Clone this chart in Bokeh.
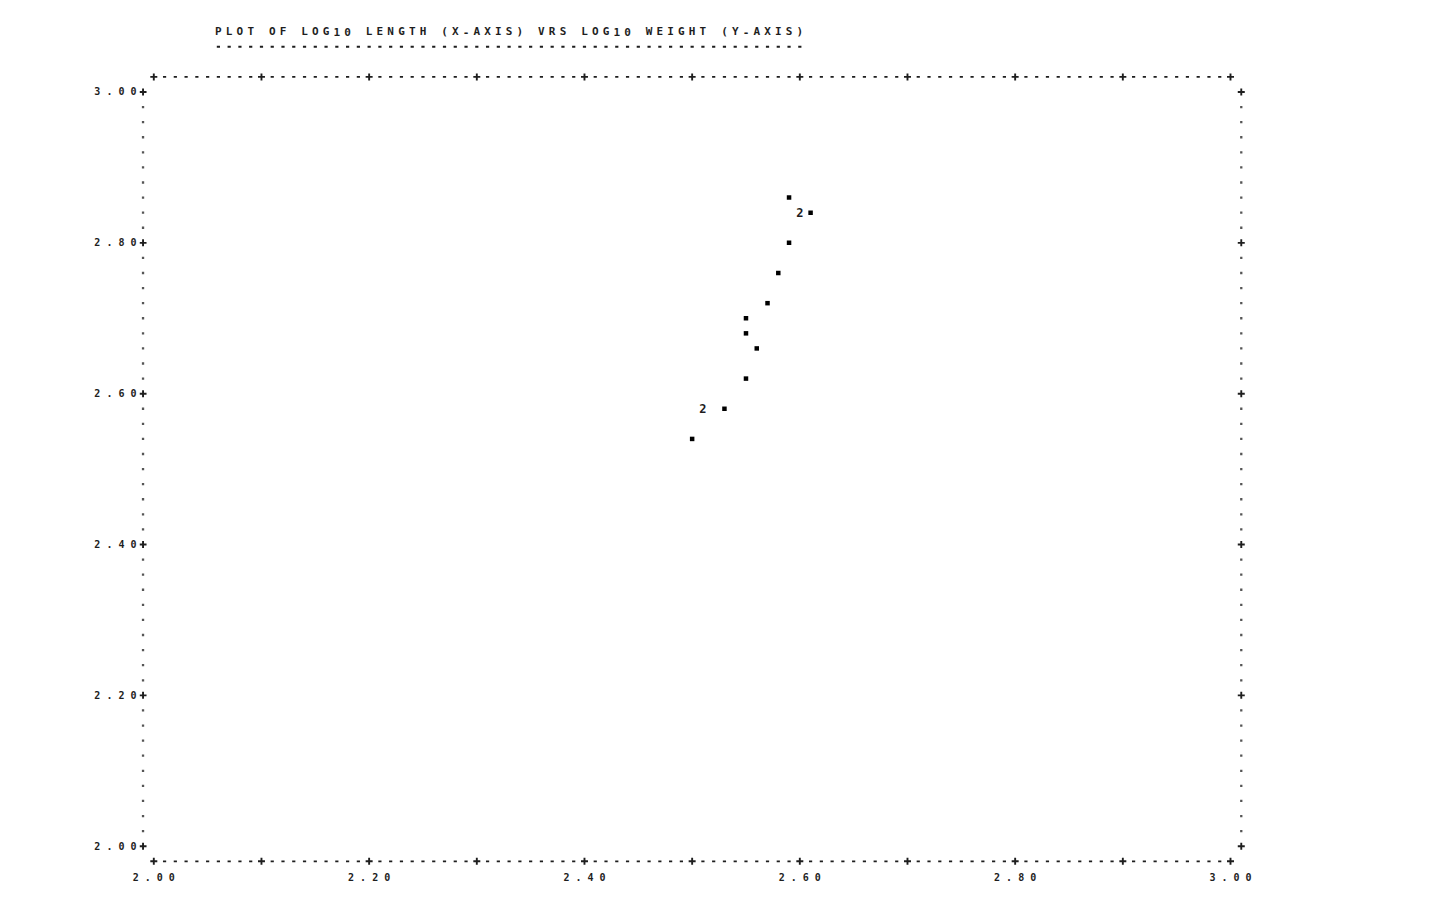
import numpy as np
from bokeh.plotting import figure
from bokeh.models import Range1d, FixedTicker, CustomJSTickFormatter
from bokeh.core.properties import value
from bokeh.embed import file_html
from bokeh.resources import INLINE

# ---------------- data ----------------
title_text = "PLOT OF LOG10 LENGTH (X-AXIS) VRS LOG10 WEIGHT (Y-AXIS)"
x_ticks = [2.00, 2.20, 2.40, 2.60, 2.80, 3.00]
y_ticks = [2.00, 2.20, 2.40, 2.60, 2.80, 3.00]

log10_length = [2.50, 2.51, 2.53, 2.55, 2.56, 2.55, 2.55, 2.57, 2.58, 2.59, 2.59, 2.60, 2.61]
log10_weight = [2.54, 2.58, 2.58, 2.62, 2.66, 2.68, 2.70, 2.72, 2.76, 2.80, 2.86, 2.84, 2.84]
obs_count    = [1,    2,    1,    1,    1,    1,    1,    1,    1,    1,    1,    2,    1]

# line-printer grid: one column = 0.01 on x, one line = 0.02 on y
COL, ROW = 0.01, 0.02
X_LO, X_HI = 2.00, 3.00
Y_LO, Y_HI = 2.00, 3.00

FONT = value("DejaVu Sans Mono")
INK = "#1e1e1e"

p = figure(width=1427, height=890,
           x_range=Range1d(1.986719, 3.018575),
           y_range=Range1d(1.973084, 3.097454),
           output_backend="svg", toolbar_location=None,
           min_border_left=139, min_border_right=177,
           min_border_top=18, min_border_bottom=24)
p.grid.visible = False
p.outline_line_color = None
p.background_fill_color = "white"
p.border_fill_color = "white"

fmt = CustomJSTickFormatter(code="return tick.toFixed(2).split('').join(' ');")
for ax, ticks, stand in ((p.xaxis[0], x_ticks, 5), (p.yaxis[0], y_ticks, 3)):
    ax.ticker = FixedTicker(ticks=ticks)
    ax.formatter = fmt
    ax.axis_line_color = None
    ax.major_tick_line_color = None
    ax.minor_tick_line_color = None
    ax.major_tick_in = 0
    ax.major_tick_out = 0
    ax.major_label_standoff = stand
    ax.major_label_text_font = "DejaVu Sans Mono"
    ax.major_label_text_font_style = "bold"
    ax.major_label_text_font_size = "10px"
    ax.major_label_text_color = INK

# ---------------- frame made of printer characters ----------------
cols = np.round(np.arange(int(round(X_LO / COL)), int(round(X_HI / COL)) + 1) * COL, 2)
rows = np.round(np.arange(int(round(Y_LO / ROW)), int(round(Y_HI / ROW)) + 1) * ROW, 2)
col_is_tick = (np.round(cols * 100).astype(int) % 10) == 0
row_is_tick = (np.round(rows * 100).astype(int) % 20) == 0

hx_dash, hy_dash, cx, cy = [], [], [], []
for yy in (Y_LO - ROW, Y_HI + ROW):
    hx_dash += list(cols[~col_is_tick]); hy_dash += [yy] * int((~col_is_tick).sum())
    cx += list(cols[col_is_tick]); cy += [yy] * int(col_is_tick.sum())
vx_dot, vy_dot = [], []
for xx in (X_LO - COL, X_HI + COL):
    vx_dot += [xx] * int((~row_is_tick).sum()); vy_dot += list(rows[~row_is_tick])
    cx += [xx] * int(row_is_tick.sum()); cy += list(rows[row_is_tick])

p.scatter(hx_dash, hy_dash, marker="dash", size=3.2, line_width=1.8, line_color=INK)
p.scatter(vx_dot, vy_dot, marker="square", size=2.3, line_color=None, fill_color="#555555")
p.scatter(cx, cy, marker="cross", size=7, line_width=1.9, line_color=INK)

# ---------------- title and its underline ----------------
t_start = X_LO + 6 * COL
t_row = Y_HI + 4 * ROW
chars = list(title_text)
t_x = [round(t_start + i * COL, 4) for i in range(len(chars))]
keep = [i for i, c in enumerate(chars) if c != " "]
p.text(x=[t_x[i] for i in keep], y=[t_row] * len(keep), text=[chars[i] for i in keep],
       text_font=FONT, text_font_style="bold", text_font_size="11px",
       text_color=INK, text_align="center", text_baseline="middle")
p.scatter(t_x, [t_row - ROW] * len(t_x), marker="dash", size=3.2, line_width=1.8, line_color=INK)

# ---------------- observations ----------------
single = [i for i, n in enumerate(obs_count) if n == 1]
multi = [i for i, n in enumerate(obs_count) if n > 1]
p.scatter([log10_length[i] for i in single], [log10_weight[i] for i in single],
          marker="square", size=4.5, line_color=None, fill_color="black")
p.text([log10_length[i] for i in multi], [log10_weight[i] for i in multi],
       text=[str(obs_count[i]) for i in multi],
       text_font=FONT, text_font_style="bold", text_font_size="12px",
       text_color=INK, text_align="center", text_baseline="middle")

open("out.html", "w").write(file_html(p, INLINE))
